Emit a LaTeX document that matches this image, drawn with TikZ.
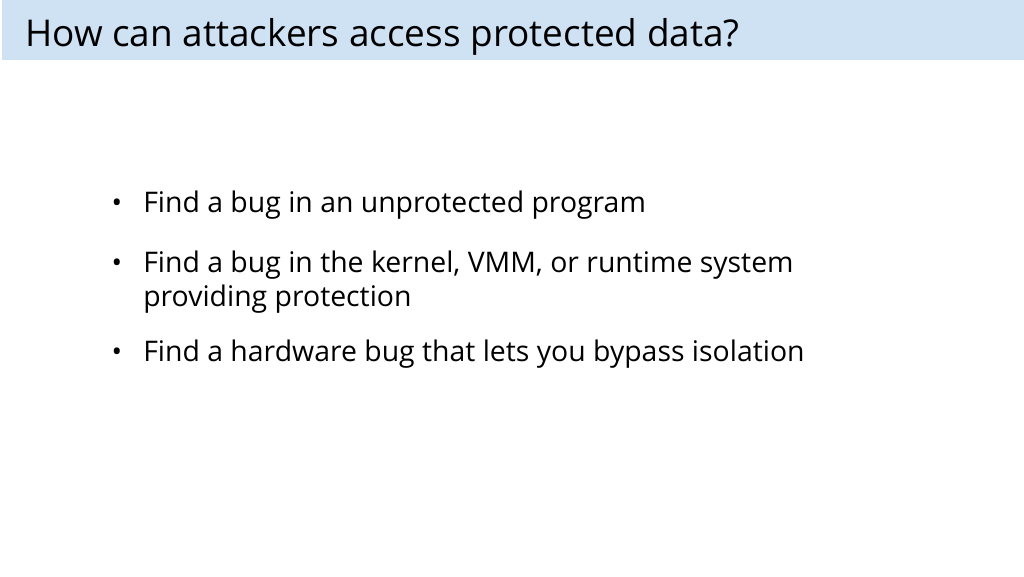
\documentclass[tikz,border=0pt]{standalone}
\usepackage{fontspec}
\setmainfont{Open Sans}
\definecolor{band}{HTML}{CFE2F3}
\begin{document}
\begin{tikzpicture}[x=0.75pt,y=-0.75pt,
  item/.style={anchor=base west,inner sep=0pt,font=\fontsize{21.3}{26}\selectfont,align=left},
  dot/.style={anchor=base,inner sep=0pt,font=\fontsize{21}{24}\selectfont}]
\useasboundingbox (0,0) rectangle (1024,576);
\fill[band] (2,0) rectangle (1024,60);
\node[anchor=base west,inner sep=0pt,font=\fontsize{27.7}{32}\selectfont] (title) at (25,46) {How can attackers access protected data?};
\node[item] (b1) at (143,212) {Find a bug in an unprotected program};
\node[item] (b2) at (143,272) {Find a bug in the kernel, VMM, or runtime system};
\node[item] (b2b) at (143,306) {providing protection};
\node[item] (b3) at (143,361) {Find a hardware bug that lets you bypass isolation};
\node[dot] (d1) at (117,212) {•};
\node[dot] (d2) at (117,272) {•};
\node[dot] (d3) at (117,361) {•};
\end{tikzpicture}
\end{document}
